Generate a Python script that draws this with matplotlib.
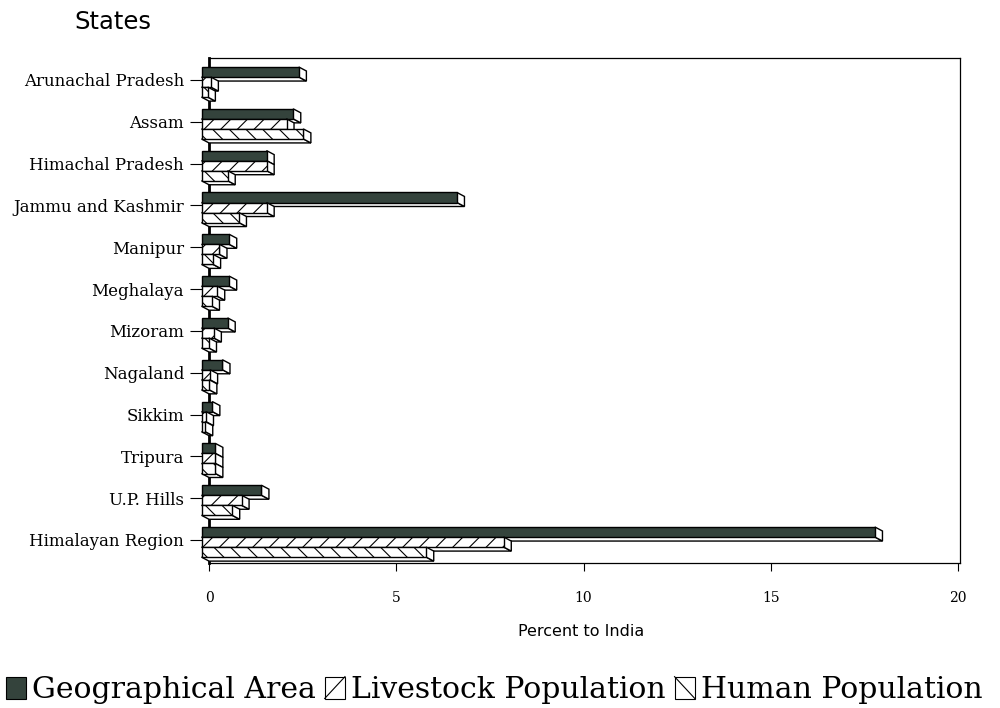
import matplotlib
matplotlib.use("Agg")
import matplotlib.pyplot as plt
from matplotlib.patches import Rectangle, Polygon, Patch
from matplotlib.lines import Line2D
from matplotlib.legend_handler import HandlerBase

# Data (percent to India)
states = ['Arunachal Pradesh', 'Assam', 'Himachal Pradesh', 'Jammu and Kashmir',
          'Manipur', 'Meghalaya', 'Mizoram', 'Nagaland', 'Sikkim', 'Tripura',
          'U.P. Hills', 'Himalayan Region']
geo_area = [2.6, 2.45, 1.74, 6.82, 0.74, 0.74, 0.7, 0.56, 0.29, 0.37, 1.6, 17.98]
livestock = [0.25, 2.27, 1.74, 1.74, 0.48, 0.42, 0.33, 0.23, 0.12, 0.37, 1.07, 8.07]
human = [0.17, 2.72, 0.7, 1.0, 0.31, 0.28, 0.2, 0.21, 0.1, 0.37, 0.82, 6.0]
series_names = ['Geographical Area', 'Livestock Population', 'Human Population']
xticks = [0, 5, 10, 15, 20]

dark = '#34433c'
plt.rcParams['hatch.linewidth'] = 0.8

fig = plt.figure(figsize=(10, 7.08), dpi=100)
ax = fig.add_axes([0.209, 1 - 563 / 708, 0.751, (563 - 58) / 708])

dx, dy = 0.2, 0.095   # 3d depth (x in percent, y in category units)
h = 0.24
offsets = [-0.31, -0.07, 0.17]
styles = [dict(fc=dark, hatch=None), dict(fc='white', hatch='//'), dict(fc='white', hatch='\\\\')]

z = 3
for i in range(len(states)):
    for k, vals in enumerate([geo_area, livestock, human]):
        v = vals[i]
        t = i + offsets[k]
        # bottom face
        bottom = Polygon([(-dx, t + h), (v - dx, t + h), (v, t + h + dy), (0, t + h + dy)],
                         closed=True, fc='white', ec='black', lw=1.0, zorder=z, clip_on=False)
        # right end face
        cap = Polygon([(v - dx, t), (v, t + dy), (v, t + h + dy), (v - dx, t + h)],
                      closed=True, fc='white', ec='black', lw=1.0, zorder=z, clip_on=False)
        front = Rectangle((-dx, t), v, h, fc=styles[k]['fc'], ec='black', lw=1.0,
                          hatch=styles[k]['hatch'], zorder=z + 0.5, clip_on=False)
        ax.add_patch(bottom)
        ax.add_patch(cap)
        ax.add_patch(front)
        z += 1

ax.set_xlim(0, 20.05)
ax.set_ylim(11.55, -0.526)
ax.set_yticks(range(len(states)))
ax.set_yticklabels(states, family='DejaVu Serif', fontsize=12)
ax.set_xticks(xticks)
ax.set_xticklabels([str(x) for x in xticks], family='DejaVu Serif', fontsize=10)
ax.tick_params(axis='y', length=14, width=0.8, pad=4)
ax.tick_params(axis='x', length=6, width=0.8, pad=14)
for s in ['top', 'right', 'bottom']:
    ax.spines[s].set_linewidth(0.9)
ax.spines['left'].set_linewidth(2)

ax.set_xlabel('Percent to India', family='DejaVu Sans', fontsize=11.5)
ax.xaxis.set_label_coords((581 - 209) / 751, -(624 - 563) / 505)

fig.text(0.074, 1 - 22 / 708, 'States', family='DejaVu Sans', fontsize=17.5, va='center')


class BoxHandler(HandlerBase):
    def create_artists(self, legend, orig_handle, xdescent, ydescent, width, height, fontsize, trans):
        x0, y0 = -xdescent, -ydescent
        arts = [Rectangle((x0, y0), width, height, fc=orig_handle.get_facecolor(),
                          ec='black', lw=0.8, transform=trans)]
        hatch = orig_handle.get_hatch()
        if hatch == '/':
            arts.append(Line2D([x0, x0 + width], [y0, y0 + height], color='black', lw=0.8, transform=trans))
        elif hatch == '\\':
            arts.append(Line2D([x0, x0 + width], [y0 + height, y0], color='black', lw=0.8, transform=trans))
        return arts


handles = [Patch(facecolor=dark), Patch(facecolor='white', hatch='/'), Patch(facecolor='white', hatch='\\')]
fig.legend(handles, series_names, loc='center', bbox_to_anchor=(0.494, 1 - 690 / 708), ncol=3,
           frameon=False, prop={'family': 'DejaVu Serif', 'size': 21.5},
           handlelength=0.68, handleheight=0.75, handletextpad=0.2, columnspacing=0.3,
           handler_map={Patch: BoxHandler()})

fig.savefig('out.png', dpi=100)
